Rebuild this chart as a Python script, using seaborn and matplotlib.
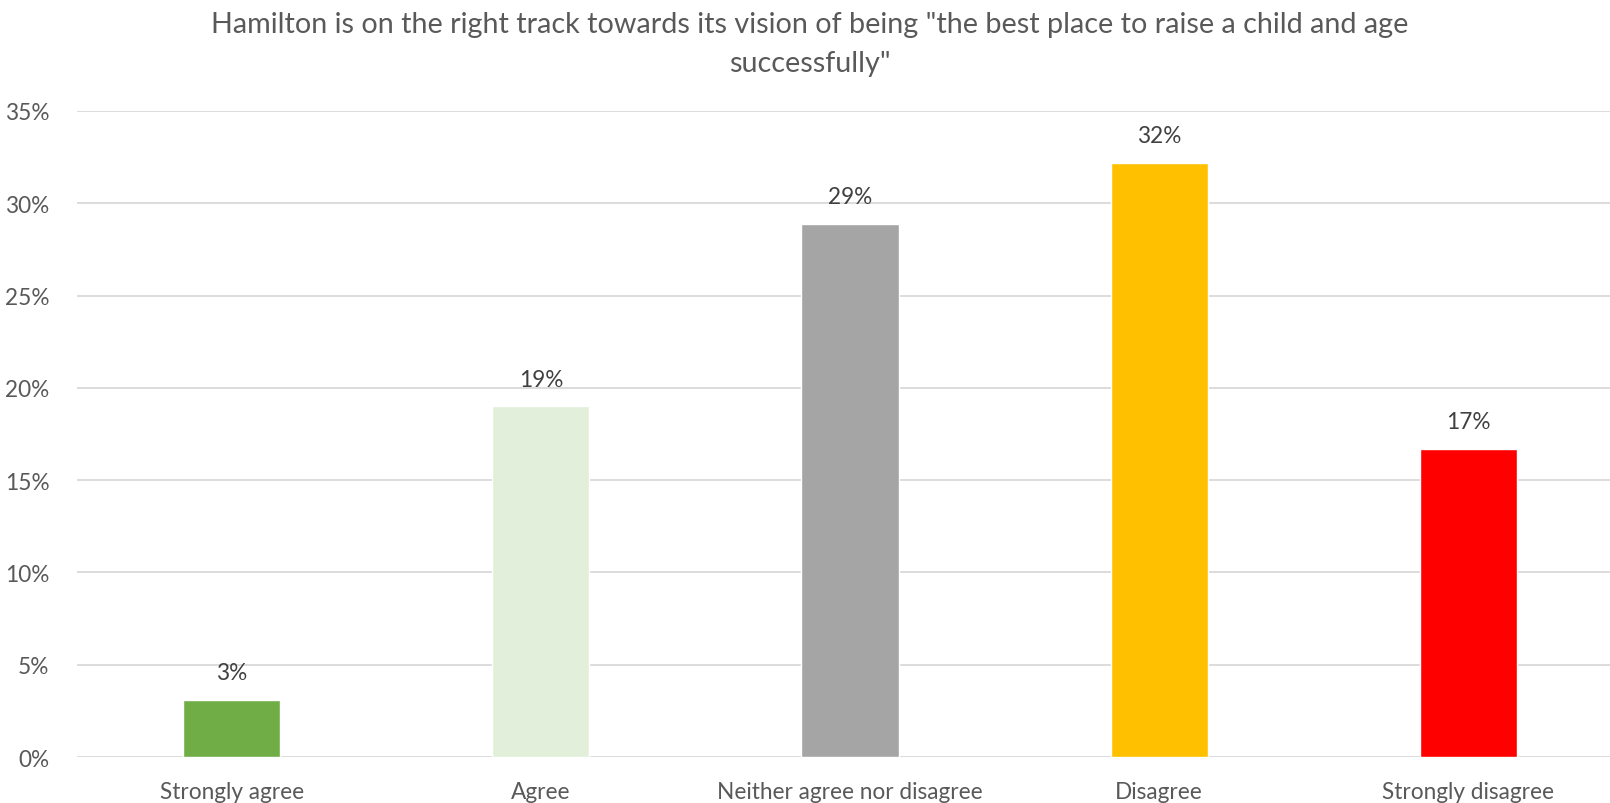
import matplotlib
matplotlib.use("Agg")
import matplotlib.pyplot as plt
import seaborn as sns
import pandas as pd
from matplotlib.ticker import PercentFormatter

categories = ["Strongly agree", "Agree", "Neither agree nor disagree", "Disagree", "Strongly disagree"]
values = [3.1, 19.0, 28.9, 32.2, 16.7]
colors = ["#70AD47", "#E2EFDA", "#A5A5A5", "#FFC000", "#FF0000"]
title = 'Hamilton is on the right track towards its vision of being "the best place to raise a child and age\nsuccessfully"'

sns.set_theme(style="white")
plt.rcParams["font.family"] = ["Lato", "DejaVu Sans"]

df = pd.DataFrame({"response": categories, "share": values})

fig = plt.figure(figsize=(16.10, 8.04), dpi=100)
ax = fig.add_axes([77 / 1610, 0.0572, 1546 / 1610, 0.8035])

sns.barplot(data=df, x="response", y="share", hue="response", palette=colors,
            order=categories, hue_order=categories, width=0.314, legend=False,
            saturation=1, ax=ax, zorder=3)

ax.set_ylim(0, 35)
ax.set_yticks(range(0, 36, 5))
ax.yaxis.set_major_formatter(PercentFormatter(decimals=0))
ax.grid(axis="y", color="#D9D9D9", linewidth=1.3, zorder=0)
ax.set_axisbelow(True)
for s in ax.spines.values():
    s.set_visible(False)
ax.set_xlabel("")
ax.set_ylabel("")
ax.tick_params(axis="y", length=0, pad=20, labelsize=16.3, labelcolor="#595959")
ax.tick_params(axis="x", length=0, pad=17, labelsize=16.3, labelcolor="#595959")

for i, v in enumerate(values):
    ax.annotate(f"{v:.0f}%", (i, v), xytext=(0, 12), textcoords="offset points",
                ha="center", va="bottom", fontsize=16.3, color="#404040")

fig.text(0.503, 0.985, title, ha="center", va="top", fontsize=20.7, color="#595959",
         linespacing=1.6)

fig.savefig("out.png", dpi=100)
